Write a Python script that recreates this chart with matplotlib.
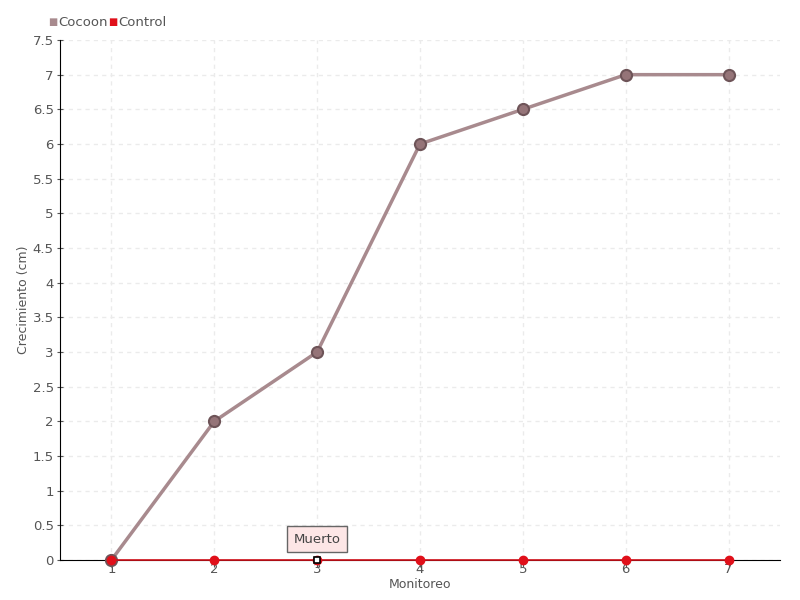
import matplotlib
matplotlib.use("Agg")
import matplotlib.pyplot as plt
from matplotlib.ticker import MultipleLocator, FuncFormatter

# datos
monitoreo = ["1", "2", "3", "4", "5", "6", "7"]
cocoon = [0, 2, 3, 6, 6.5, 7, 7]
control = [0, 0, 0, 0, 0, 0, 0]

plt.rcParams['font.family'] = ['DejaVu Sans']

fig = plt.figure(figsize=(8, 6), dpi=100)
ax = fig.add_axes([60 / 800, 40 / 600, 720 / 800, 520 / 600])

x = list(range(len(monitoreo)))

ax.plot(x, cocoon, color="#a88a8e", lw=2.5, marker="o", ms=8,
        mfc="#957478", mec="#6e5458", mew=1.5, zorder=4, clip_on=False,
        label="Cocoon")
ax.plot(x, control, color="#d0101a", lw=1.2, marker="o", ms=6,
        mfc="#e0101a", mec="#e0101a", zorder=5, clip_on=False, label="Control")

# punto resaltado en x=3
ax.plot(x[2], control[2], marker="s", ms=5, mfc="white", mec="black",
        mew=1.2, zorder=6, clip_on=False)

ax.annotate("Muerto", xy=(x[2], control[2]), xytext=(0, 15),
            textcoords="offset points", ha="center", va="center",
            fontsize=9.5, color="#444444",
            bbox=dict(boxstyle="square,pad=0.5", fc="#fde6e6", ec="#666666", lw=1),
            zorder=7)

ax.set_xlim(-0.5, len(monitoreo) - 0.5)
ax.set_ylim(0, 7.5)
ax.set_xticks(x)
ax.set_xticklabels(monitoreo)
ax.yaxis.set_major_locator(MultipleLocator(0.5))
ax.yaxis.set_major_formatter(FuncFormatter(lambda v, p: f"{v:g}"))

ax.grid(True, color="#ebebeb", linestyle=(0, (3, 3)), lw=1)
ax.set_axisbelow(True)
for s in ["top", "right"]:
    ax.spines[s].set_visible(False)
ax.spines["left"].set_color("black")
ax.spines["bottom"].set_color("black")
ax.tick_params(axis="both", labelsize=9.5, colors="#555555", length=5)
ax.tick_params(axis="y", pad=2, direction="inout")
ax.tick_params(axis="x", direction="out", pad=-3)

ax.set_xlabel("Monitoreo", fontsize=9, color="#555555", va="center")
ax.xaxis.set_label_coords(0.5, -24 / 520)
ax.set_ylabel("Crecimiento (cm)", fontsize=9, color="#555555", va="center")
ax.yaxis.set_label_coords(-36 / 720, 0.5)

# leyenda arriba a la izquierda
fig.text(48 / 800, 1 - 22 / 600, "■", color="#a88a8e", fontsize=7, va="center")
fig.text(58 / 800, 1 - 22 / 600, "Cocoon", color="#555555", fontsize=9.5, va="center")
fig.text(108 / 800, 1 - 22 / 600, "■", color="#e0101a", fontsize=7, va="center")
fig.text(118 / 800, 1 - 22 / 600, "Control", color="#555555", fontsize=9.5, va="center")

fig.savefig("out.png", dpi=100)
